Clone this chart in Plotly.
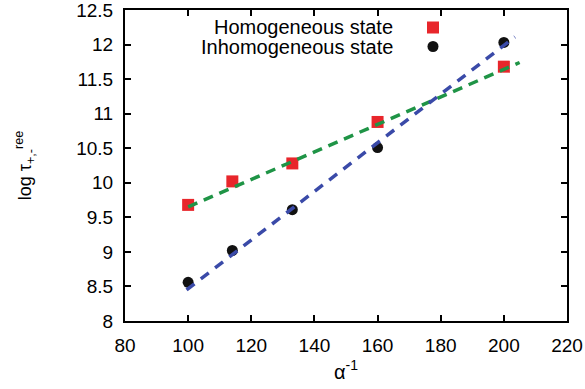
import plotly.graph_objects as go

# Data
alpha_inv = [100, 114, 133, 160, 200]
homog = [9.68, 10.02, 10.28, 10.88, 11.68]
inhom = [8.56, 9.02, 9.61, 10.51, 12.03]

homog_fit_x = [100, 205]
homog_fit_y = [9.65, 11.74]
inhom_fit_x = [99.5, 203.5]
inhom_fit_y = [8.45, 12.11]

legend_labels = ["Homogeneous state", "Inhomogeneous state"]
x_ticks = [80, 100, 120, 140, 160, 180, 200, 220]
y_ticks = [8, 8.5, 9, 9.5, 10, 10.5, 11, 11.5, 12, 12.5]

FONT = "Liberation Sans, Arial, sans-serif"

fig = go.Figure()
fig.add_trace(go.Scatter(x=alpha_inv, y=homog, mode="markers", name=" ",
                         marker=dict(symbol="square", size=12, color="#e8262b")))
fig.add_trace(go.Scatter(x=alpha_inv, y=inhom, mode="markers", name=" ",
                         marker=dict(symbol="circle", size=11, color="#111111")))
fig.add_trace(go.Scatter(x=homog_fit_x, y=homog_fit_y, mode="lines", showlegend=False,
                         line=dict(color="#1f9446", width=3.5, dash="10px,7px")))
fig.add_trace(go.Scatter(x=inhom_fit_x, y=inhom_fit_y, mode="lines", showlegend=False,
                         line=dict(color="#3a4aa8", width=3.5, dash="10px,8px")))

axis_common = dict(showline=True, linecolor="black", linewidth=2, mirror="allticks",
                   ticks="inside", ticklen=6, tickwidth=1.5, tickcolor="black",
                   showgrid=False, zeroline=False, automargin=False,
                   ticklabeloverflow="allow",
                   tickfont=dict(family=FONT, size=19, color="black"))

fig.update_xaxes(range=[80, 220], tickvals=x_ticks, ticklabelstandoff=6,
                 title=dict(text="α<sup>-1</sup>", font=dict(family=FONT, size=20, color="black"),
                            standoff=10),
                 **axis_common)
fig.update_yaxes(range=[8, 12.5], tickvals=y_ticks, ticklabelstandoff=6,
                 title=dict(text="log τ<sub>+,-</sub><sup>ree</sup>",
                            font=dict(family=FONT, size=18, color="black"), standoff=40),
                 **axis_common)

for i, lab in enumerate(legend_labels):
    fig.add_annotation(text=lab, xref="paper", yref="paper", x=(395 - 125) / 442,
                       y=1 - (27 + 20 * i - 10) / 311, xanchor="right", yanchor="middle",
                       showarrow=False, font=dict(family=FONT, size=20, color="black"))

fig.update_layout(
    width=585, height=389,
    margin=dict(l=125, r=18, t=10, b=68, autoexpand=False),
    plot_bgcolor="white", paper_bgcolor="white",
    legend=dict(x=(433 - 125 - 20) / 442, y=1 - (13 - 10) / 311, xanchor="left", yanchor="top",
                bgcolor="rgba(0,0,0,0)", font=dict(family=FONT, size=11),
                tracegroupgap=0, itemwidth=30),
    showlegend=True,
)

fig.write_html("out.html")
